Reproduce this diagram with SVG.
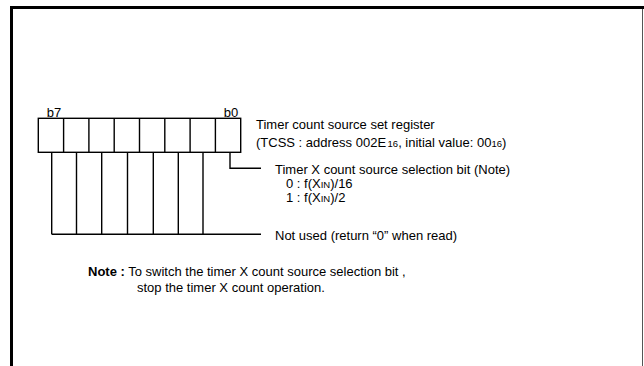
<svg xmlns="http://www.w3.org/2000/svg" width="644" height="366" viewBox="0 0 644 366">
<style>
text{font-family:"Liberation Sans",Arial,sans-serif;font-size:13px;fill:#000}
.sm{font-size:9.5px}
.b{font-weight:bold}
.c{text-anchor:middle}
.ln{stroke:#000;stroke-width:1.4;fill:none}
</style>
<rect width="644" height="366" fill="#fff"/>
<g id="frame">
<path d="M11.5,366 V7.5 H644" stroke="#000" stroke-width="3" fill="none"/>
<path d="M642.5,9 V366" stroke="#555" stroke-width="1" fill="none"/>
</g>
<g id="register">
<rect class="ln" x="38.3" y="118.3" width="202.4" height="34"/>
<path class="ln" d="M63.6,118.3V152.3M88.9,118.3V152.3M114.2,118.3V152.3M139.5,118.3V152.3M164.8,118.3V152.3M190.1,118.3V152.3M215.4,118.3V152.3"/>
<text class="c" x="54" y="117">b7</text>
<text class="c" x="231" y="117">b0</text>
</g>
<g id="connectors">
<path class="ln" d="M230,152.3V168.3H261"/>
<path class="ln" d="M51.7,152.3V234.3M76.5,152.3V234.3M101.7,152.3V234.3M127.5,152.3V234.3M153.3,152.3V234.3M178.3,152.3V234.3M203,152.3V234.3M51.7,234.3H261"/>
</g>
<g id="title">
<text x="256" y="129">Timer count source set register</text>
<text x="256" y="147">(TCSS : address 002E<tspan class="sm" dx="1.5">16</tspan>, initial value: 00<tspan class="sm">16</tspan>)</text>
</g>
<g id="bit0">
<text x="275" y="174">Timer X count source selection bit (Note)</text>
<text x="286" y="188">0 : f(X<tspan class="sm">IN</tspan>)/16</text>
<text x="286" y="202">1 : f(X<tspan class="sm">IN</tspan>)/2</text>
</g>
<g id="unused">
<text x="275" y="240">Not used (return “0” when read)</text>
</g>
<g id="note">
<text x="88" y="276"><tspan class="b">Note :</tspan> To switch the timer X count source selection bit ,</text>
<text x="137" y="292">stop the timer X count operation.</text>
</g>
</svg>
